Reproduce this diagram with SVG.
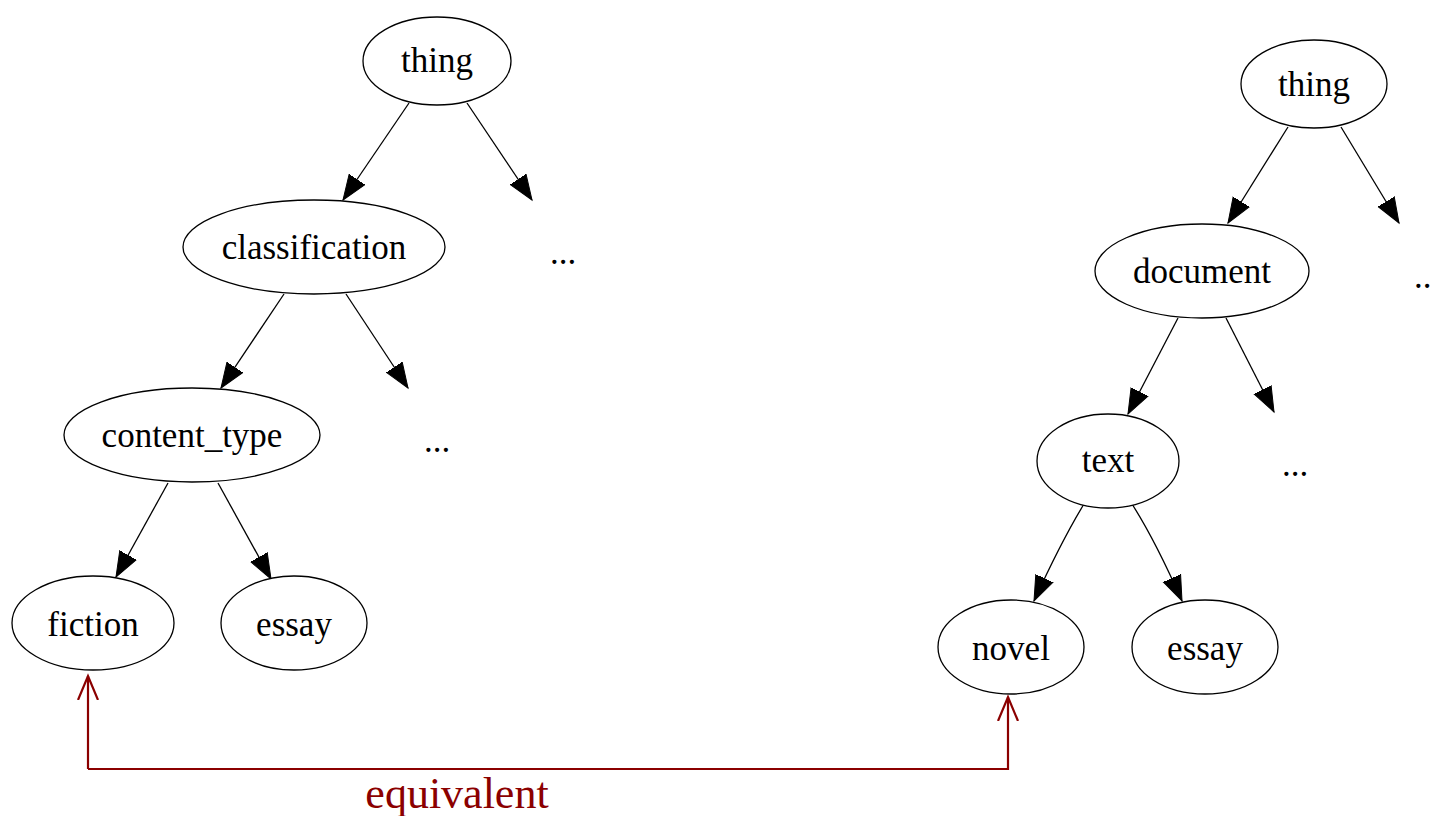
<svg xmlns="http://www.w3.org/2000/svg" width="1431" height="816" viewBox="0 0 1431 816">
<style>
.n ellipse{fill:#fff;stroke:#000;stroke-width:1.3}
text{font-family:"Liberation Serif","Times New Roman",serif;font-size:35px;fill:#000;text-anchor:middle}
.e{stroke:#000;stroke-width:1.3;fill:none;marker-end:url(#ah)}
.eq{stroke:#8b0000;stroke-width:2.2;fill:none;marker-end:url(#oh)}
</style>
<defs>
<marker id="ah" markerUnits="userSpaceOnUse" markerWidth="30" markerHeight="24" viewBox="0 -12 30 24" refX="25" refY="0" orient="auto"><path d="M0,-9.5 L25,0 L0,9.5 Z" fill="#000" stroke="#000" stroke-width="1"/></marker>
<marker id="oh" markerUnits="userSpaceOnUse" markerWidth="30" markerHeight="26" viewBox="0 -13 30 26" refX="24" refY="0" orient="auto"><path d="M0,-10 L24,0 L0,10" fill="none" stroke="#8b0000" stroke-width="2.2"/></marker>
</defs>
<rect width="1431" height="816" fill="#fff"/>
<g id="connectors">
<path class="e" d="M409,103 L343,200"/>
<path class="e" d="M467,103 L532,200"/>
<path class="e" d="M284,294 L221,388"/>
<path class="e" d="M346,294 L408,388"/>
<path class="e" d="M168,483 L116,577"/>
<path class="e" d="M218,483 L271,579"/>
<path class="e" d="M1288,127 L1228,223"/>
<path class="e" d="M1341,127 L1399,223"/>
<path class="e" d="M1178,318 L1128,414"/>
<path class="e" d="M1226,318 L1274,412"/>
<path class="e" d="M1084,504 Q1062,540 1034,601"/>
<path class="e" d="M1132,504 Q1155,540 1182,601"/>
<path class="eq" d="M88,769 L88,676"/>
<path class="eq" d="M88,769 L1008,769 L1008,697"/>
<text x="457" y="808" style="font-size:44px;fill:#8b0000">equivalent</text>
</g>
<g id="l_thing" class="n"><ellipse cx="437" cy="61" rx="74" ry="44"/><text x="437" y="72">thing</text></g>
<g id="l_classification" class="n"><ellipse cx="314" cy="247" rx="131" ry="47"/><text x="314" y="259">classification</text></g>
<g id="l_dots1"><text x="563" y="264">...</text></g>
<g id="l_content_type" class="n"><ellipse cx="192" cy="435" rx="128" ry="47"/><text x="192" y="447">content_type</text></g>
<g id="l_dots2"><text x="437" y="452">...</text></g>
<g id="l_fiction" class="n"><ellipse cx="93" cy="623" rx="81" ry="47"/><text x="93" y="636">fiction</text></g>
<g id="l_essay" class="n"><ellipse cx="294" cy="623" rx="73" ry="47"/><text x="294" y="636">essay</text></g>
<g id="r_thing" class="n"><ellipse cx="1314" cy="84" rx="73" ry="44"/><text x="1314" y="96">thing</text></g>
<g id="r_document" class="n"><ellipse cx="1202" cy="271" rx="107" ry="47"/><text x="1202" y="283">document</text></g>
<g id="r_dots1"><text x="1414" y="288" style="text-anchor:start">..</text></g>
<g id="r_text" class="n"><ellipse cx="1108" cy="461" rx="71" ry="47"/><text x="1108" y="472">text</text></g>
<g id="r_dots2"><text x="1295" y="476">...</text></g>
<g id="r_novel" class="n"><ellipse cx="1011" cy="647" rx="73" ry="47"/><text x="1011" y="660">novel</text></g>
<g id="r_essay" class="n"><ellipse cx="1205" cy="647" rx="73" ry="47"/><text x="1205" y="660">essay</text></g>
</svg>
